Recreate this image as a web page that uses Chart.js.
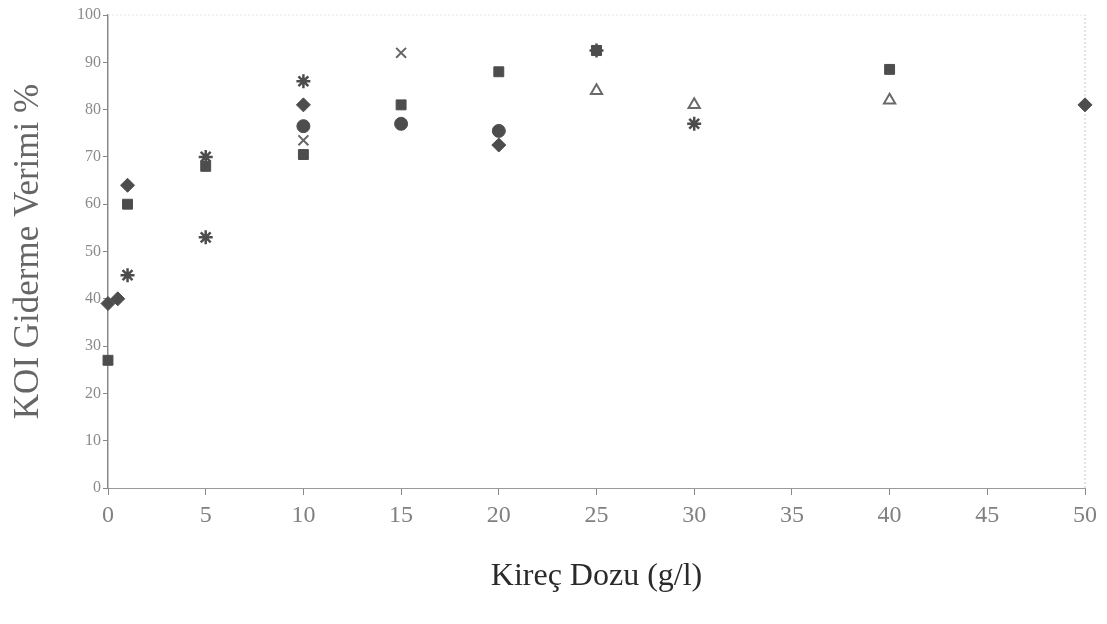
<!DOCTYPE html>
<html>
<head>
<meta charset="utf-8">
<script src="https://cdn.jsdelivr.net/npm/chart.js@4"></script>
<style>
  html, body { margin: 0; padding: 0; background: #fff; }
  #wrap { width: 1107px; height: 624px; }
</style>
</head>
<body>
<div id="wrap"><canvas id="chart" width="1107" height="624"></canvas></div>
<script>
// Kireç dozu (g/l) ve KOI giderme verimi (%) - okunan değerler
const diamondX = [0, 0.5, 1, 10, 20, 50];
const diamondY = [39, 40, 64, 81, 72.5, 81];

const squareX = [0, 1, 5, 10, 15, 20, 25, 40];
const squareY = [27, 60, 68, 70.5, 81, 88, 92.5, 88.5];

const triangleX = [25, 30, 40];
const triangleY = [84, 81, 82];

const crossX = [10, 15];
const crossY = [73.5, 92];

const starX = [1, 5, 5, 10, 25, 30];
const starY = [45, 53, 70, 86, 92.5, 77];

const circleX = [10, 15, 20];
const circleY = [76.5, 77, 75.5];

const xTicks = [0, 5, 10, 15, 20, 25, 30, 35, 40, 45, 50];
const yTicks = [0, 10, 20, 30, 40, 50, 60, 70, 80, 90, 100];

const markColor = '#4d4d4d';

const toPoints = (xs, ys) => xs.map((x, i) => ({ x: x, y: ys[i] }));

// cadre pointillé en haut et à droite
const framePlugin = {
    id: 'frame',
    beforeDatasetsDraw(chart) {
        const { ctx, chartArea: a } = chart;
        ctx.save();
        ctx.setLineDash([2, 2]);
        ctx.lineWidth = 1;
        ctx.strokeStyle = '#c8c8c8';
        ctx.beginPath();
        ctx.moveTo(a.right, a.bottom);
        ctx.lineTo(a.right, a.top);
        ctx.stroke();
        ctx.strokeStyle = '#e6e6e6';
        ctx.beginPath();
        ctx.moveTo(a.left, a.top);
        ctx.lineTo(a.right, a.top);
        ctx.stroke();
        ctx.restore();
    }
};

const ctx = document.getElementById('chart').getContext('2d');
new Chart(ctx, {
    type: 'scatter',
    data: {
        datasets: [
            { label: 'diamond', data: toPoints(diamondX, diamondY), pointStyle: 'rectRot', pointRadius: 7,
              backgroundColor: markColor, borderColor: markColor, borderWidth: 1 },
            { label: 'square', data: toPoints(squareX, squareY), pointStyle: 'rect', pointRadius: 7,
              backgroundColor: markColor, borderColor: markColor, borderWidth: 1 },
            { label: 'triangle', data: toPoints(triangleX, triangleY), pointStyle: 'triangle', pointRadius: 6.5,
              backgroundColor: 'rgba(0,0,0,0)', borderColor: '#6a6a6a', borderWidth: 2 },
            { label: 'cross', data: toPoints(crossX, crossY), pointStyle: 'crossRot', pointRadius: 7,
              backgroundColor: markColor, borderColor: '#666', borderWidth: 2 },
            { label: 'star', data: toPoints(starX, starY), pointStyle: 'star', pointRadius: 7,
              backgroundColor: markColor, borderColor: markColor, borderWidth: 2.5 },
            { label: 'circle', data: toPoints(circleX, circleY), pointStyle: 'circle', pointRadius: 6.5,
              backgroundColor: markColor, borderColor: markColor, borderWidth: 1 }
        ]
    },
    options: {
        responsive: false,
        animation: false,
        clip: false,
        layout: { padding: { top: 15, right: 22, left: 0, bottom: 0 } },
        plugins: {
            legend: { display: false },
            tooltip: { enabled: false }
        },
        scales: {
            x: {
                type: 'linear',
                min: 0,
                max: 50,
                afterBuildTicks: (scale) => { scale.ticks = xTicks.map(v => ({ value: v })); },
                afterFit: (scale) => { scale.height = 136; },
                border: { display: true, color: '#9a9a9a', width: 1, dash: [3, 1] },
                grid: { drawOnChartArea: false, drawTicks: true, tickLength: 7, color: '#888' },
                ticks: {
                    padding: 6,
                    color: '#808080',
                    font: { family: 'Liberation Serif', size: 24 }
                },
                title: {
                    display: true,
                    text: 'Kireç Dozu (g/l)',
                    color: '#2a2a2a',
                    font: { family: 'Liberation Serif', size: 32 },
                    padding: { top: 0, bottom: 28 }
                }
            },
            y: {
                type: 'linear',
                min: 0,
                max: 100,
                afterBuildTicks: (scale) => { scale.ticks = yTicks.map(v => ({ value: v })); },
                afterFit: (scale) => { scale.width = 108; },
                border: { display: true, color: '#8a8a8a', width: 1.5 },
                grid: { drawOnChartArea: false, drawTicks: true, tickLength: 5, color: '#888' },
                ticks: {
                    padding: 2,
                    color: '#8a8a8a',
                    font: { family: 'Liberation Serif', size: 16 }
                },
                title: {
                    display: true,
                    text: 'KOI Giderme Verimi %',
                    color: '#666666',
                    font: { family: 'Liberation Serif', size: 35 },
                    padding: { top: 8, bottom: 0 }
                }
            }
        }
    },
    plugins: [framePlugin]
});
</script>
</body>
</html>
